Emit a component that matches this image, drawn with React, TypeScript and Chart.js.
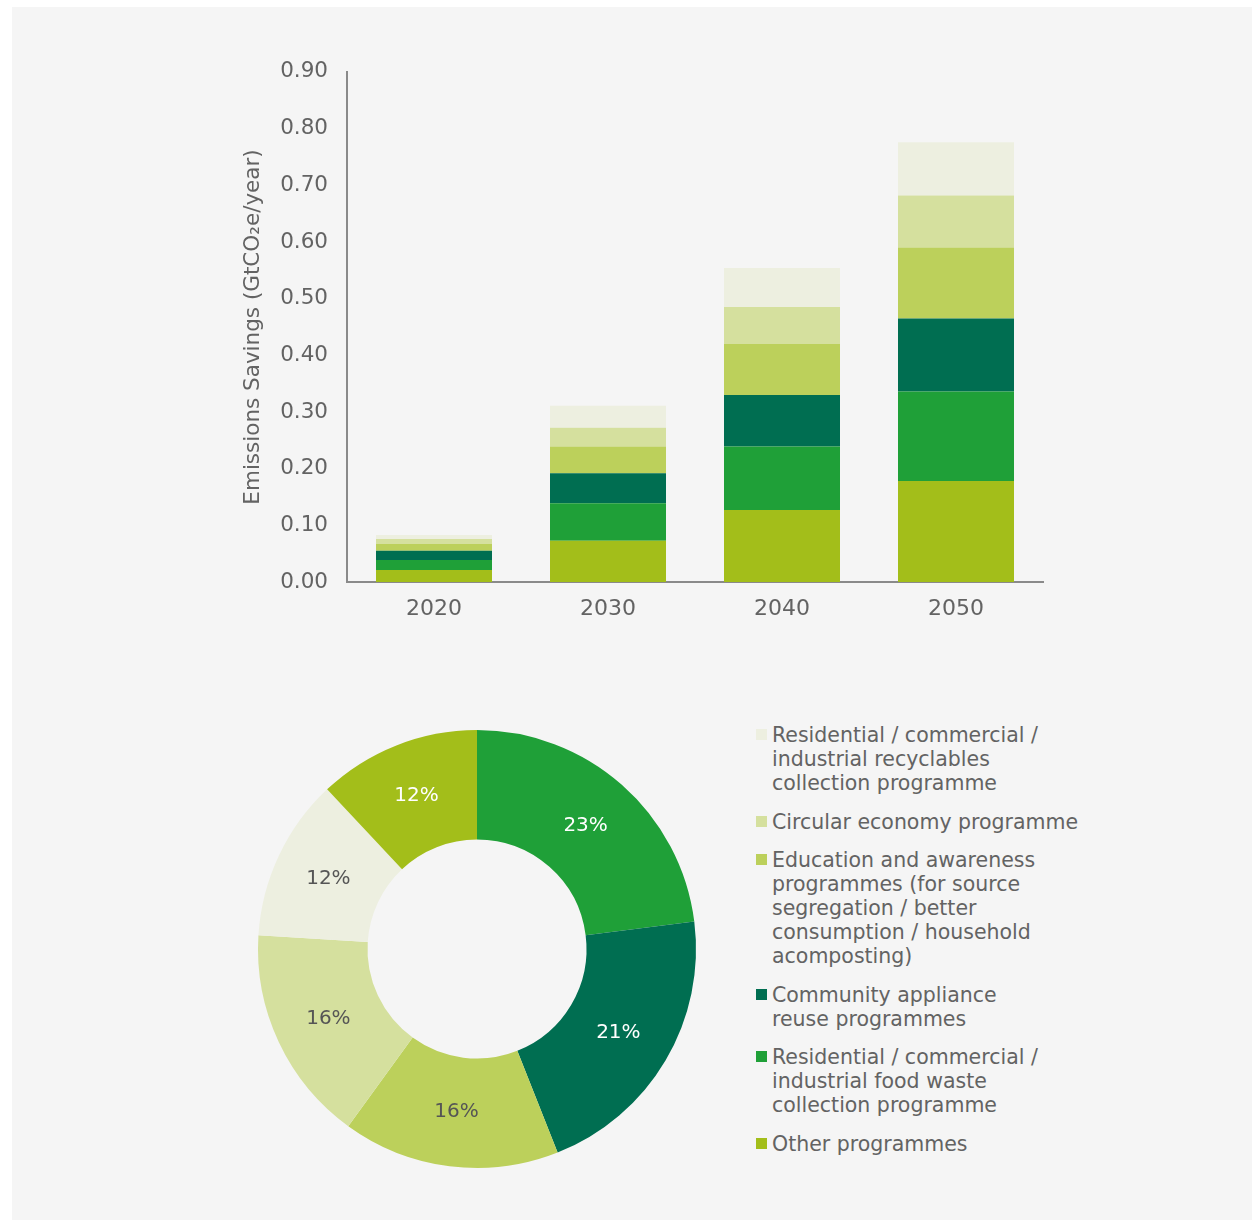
import React, { useEffect, useRef } from "react";
import { Chart, registerables } from "chart.js";

Chart.register(...registerables);

const categories = ["2020", "2030", "2040", "2050"];
const otherProgrammes = [0.021, 0.073, 0.127, 0.178];
const foodWaste = [0.018, 0.066, 0.112, 0.158];
const communityReuse = [0.016, 0.053, 0.091, 0.129];
const education = [0.012, 0.047, 0.090, 0.125];
const circularEconomy = [0.009, 0.033, 0.065, 0.092];
const recyclables = [0.007, 0.039, 0.069, 0.094];

const yTicks = [0, 0.1, 0.2, 0.3, 0.4, 0.5, 0.6, 0.7, 0.8, 0.9];

const shareLabels = [
  "Residential / commercial / industrial food waste collection programme",
  "Community appliance reuse programmes",
  "Education and awareness programmes",
  "Circular economy programme",
  "Residential / commercial / industrial recyclables collection programme",
  "Other programmes",
];
const shareValues = [23, 21, 16, 16, 12, 12];

const legendItems: { color: string; lines: string[] }[] = [
  { color: "#edefe0", lines: ["Residential / commercial /", "industrial recyclables", "collection programme"] },
  { color: "#d5e09e", lines: ["Circular economy programme"] },
  {
    color: "#bcd05b",
    lines: ["Education and awareness", "programmes (for source", "segregation / better", "consumption / household", "acomposting)"],
  },
  { color: "#006e51", lines: ["Community appliance", "reuse programmes"] },
  { color: "#1fa038", lines: ["Residential / commercial /", "industrial food waste", "collection programme"] },
  { color: "#a3be1a", lines: ["Other programmes"] },
];

const C_OTHER = "#a3be1a";
const C_FOOD = "#1fa038";
const C_COMM = "#006e51";
const C_EDU = "#bcd05b";
const C_CIRC = "#d5e09e";
const C_RECY = "#edefe0";

const FONT = "'DejaVu Sans', sans-serif";
const TEXT = "#636363";

export default function App() {
  const barRef = useRef<HTMLCanvasElement>(null);
  const pieRef = useRef<HTMLCanvasElement>(null);

  useEffect(() => {
    const bar = new Chart(barRef.current!, {
      type: "bar",
      data: {
        labels: categories,
        datasets: [
          { label: "Other programmes", data: otherProgrammes, backgroundColor: C_OTHER },
          { label: "Food waste", data: foodWaste, backgroundColor: C_FOOD },
          { label: "Community", data: communityReuse, backgroundColor: C_COMM },
          { label: "Education", data: education, backgroundColor: C_EDU },
          { label: "Circular", data: circularEconomy, backgroundColor: C_CIRC },
          { label: "Recyclables", data: recyclables, backgroundColor: C_RECY },
        ],
      },
      options: {
        animation: false,
        responsive: false,
        maintainAspectRatio: false,
        layout: { padding: { left: 0, top: 30, right: 37, bottom: 0 } },
        plugins: { legend: { display: false }, tooltip: { enabled: false } },
        datasets: { bar: { barPercentage: 1, categoryPercentage: 116 / 174 } },
        scales: {
          x: {
            stacked: true,
            grid: { display: false, drawTicks: false },
            border: { display: true, color: "#8a8a8a", width: 2 },
            ticks: { padding: 14, color: TEXT, font: { family: FONT, size: 22 } },
            afterFit: (s: any) => {
              s.height = 58;
            },
          },
          y: {
            stacked: true,
            min: 0,
            max: 0.9,
            afterBuildTicks: (s: any) => {
              s.ticks = yTicks.map((v) => ({ value: v }));
            },
            grid: { display: false, drawTicks: false },
            border: { display: true, color: "#8a8a8a", width: 2 },
            ticks: {
              padding: 19,
              color: TEXT,
              font: { family: FONT, size: 21.5 },
              callback: (v: any) => Number(v).toFixed(2),
            },
            title: {
              display: true,
              text: "Emissions Savings (GtCO₂e/year)",
              color: TEXT,
              font: { family: FONT, size: 21.5 },
              padding: { top: 21, bottom: 0 },
            },
            afterFit: (s: any) => {
              s.width = 127;
            },
          },
        },
      },
    });

    const pctPlugin = {
      id: "pctLabels",
      afterDatasetsDraw(chart: any) {
        const ctx = chart.ctx;
        const meta = chart.getDatasetMeta(0);
        const textColors = ["#ffffff", "#ffffff", "#555555", "#555555", "#555555", "#ffffff"];
        ctx.save();
        ctx.font = `20px ${FONT}`;
        ctx.textAlign = "center";
        ctx.textBaseline = "middle";
        meta.data.forEach((arc: any, i: number) => {
          const p = arc.getCenterPoint();
          ctx.fillStyle = textColors[i];
          ctx.fillText(`${shareValues[i]}%`, p.x, p.y);
        });
        ctx.restore();
      },
    };

    const pie = new Chart(pieRef.current!, {
      type: "doughnut",
      data: {
        labels: shareLabels,
        datasets: [
          {
            data: shareValues,
            backgroundColor: [C_FOOD, C_COMM, C_EDU, C_CIRC, C_RECY, C_OTHER],
            borderWidth: 0,
          },
        ],
      },
      options: {
        animation: false,
        responsive: false,
        maintainAspectRatio: false,
        cutout: "50%",
        layout: { padding: 11 },
        plugins: { legend: { display: false }, tooltip: { enabled: false } },
      },
      plugins: [pctPlugin],
    });

    return () => {
      bar.destroy();
      pie.destroy();
    };
  }, []);

  return (
    <div style={{ position: "absolute", left: 0, top: 0, width: 1252, height: 1220, background: "#ffffff" }}>
      <div style={{ position: "absolute", left: 12, top: 7, width: 1240, height: 1213, background: "#f5f5f5" }} />
      <canvas
        ref={barRef}
        width={860}
        height={600}
        style={{ position: "absolute", left: 220, top: 40, width: 860, height: 600 }}
      />
      <canvas
        ref={pieRef}
        width={460}
        height={460}
        style={{ position: "absolute", left: 247, top: 719, width: 460, height: 460 }}
      />
      <div
        style={{
          position: "absolute",
          left: 756,
          top: 723,
          fontFamily: FONT,
          fontSize: 20.5,
          lineHeight: "24px",
          color: TEXT,
        }}
      >
        {legendItems.map((it, i) => (
          <div key={i} style={{ position: "relative", paddingLeft: 16, marginBottom: 14.5 }}>
            <span
              style={{
                position: "absolute",
                left: 0,
                top: 6,
                width: 11,
                height: 11,
                background: it.color,
              }}
            />
            {it.lines.map((l, j) => (
              <div key={j} style={{ whiteSpace: "nowrap" }}>
                {l}
              </div>
            ))}
          </div>
        ))}
      </div>
    </div>
  );
}
